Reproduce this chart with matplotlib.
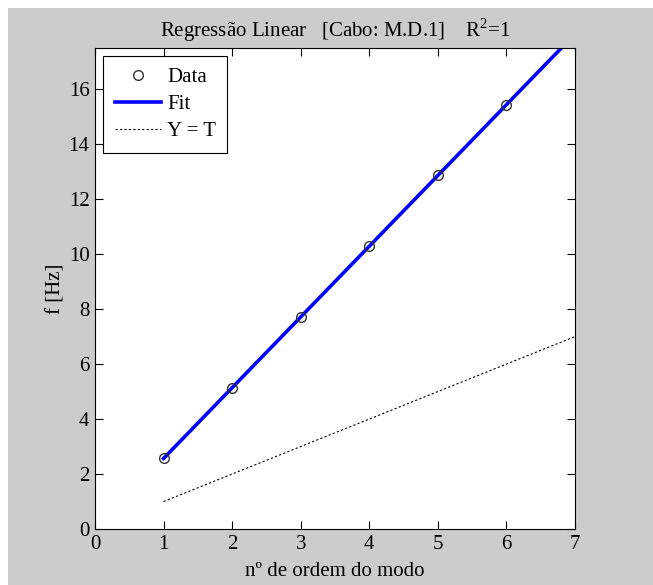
import numpy as np
import matplotlib

matplotlib.use("Agg")
import matplotlib.pyplot as plt
from matplotlib.patches import Rectangle

# values
MODE = [1, 2, 3, 4, 5, 6]
FREQ = [2.57, 5.14, 7.70, 10.30, 12.87, 15.43]
T_LINE = [1, 7]

plt.rcParams.update(
    {
        "font.family": ["Liberation Serif", "DejaVu Serif"],
        "mathtext.fontset": "custom",
        "mathtext.rm": "Liberation Serif",
        "font.size": 15,
    }
)


def plot() -> None:
    fig = plt.figure(figsize=(6.53, 5.85), dpi=100, facecolor="white")
    # grey MATLAB-style frame, white strip at left and top
    fig.patches.append(
        Rectangle((8 / 653, 0), 1, 1 - 8 / 585, transform=fig.transFigure,
                  facecolor="#cccccc", edgecolor="none", zorder=-10)
    )
    ax = fig.add_axes([95 / 653, 1 - 529 / 585, 480 / 653, 481 / 585])

    slope, intercept = np.polyfit(MODE, FREQ, 1)
    xs = np.array(T_LINE, dtype=float)

    ax.plot(MODE, FREQ, "o", mfc="none", mec="#333333", ms=7, mew=1.0,
            label="Data", zorder=3)
    ax.plot(xs, slope * xs + intercept, color="#0000ff", lw=2.6, label="Fit", zorder=2)
    ax.plot(T_LINE, T_LINE, color="black", lw=0.8, ls=(0, (2, 2)), label="Y = T", zorder=2)

    ax.set_xlim(0, 7)
    ax.set_ylim(0, 17.5)
    ax.set_xticks(range(0, 8))
    ax.set_yticks(range(0, 17, 2))
    ax.tick_params(direction="in", top=True, right=True, length=6, width=0.8,
                   labelsize=15, pad=4)
    for spine in ax.spines.values():
        spine.set_linewidth(0.8)

    ax.set_xlabel("nº de ordem do modo", fontsize=15, labelpad=6)
    ax.set_ylabel("f [Hz]", fontsize=15, labelpad=2)
    ax.set_title("Regressão Linear   [Cabo: M.D.1]    R$^2$=1", fontsize=15, pad=8)

    leg = ax.legend(loc="upper left", fancybox=False, edgecolor="black",
                    framealpha=1, borderaxespad=0.4, handlelength=2.2,
                    handletextpad=0.3, labelspacing=0.35, borderpad=0.55,
                    fontsize=15)
    leg.get_frame().set_linewidth(0.8)

    fig.savefig("out.png", dpi=100, facecolor=fig.get_facecolor())
    plt.close(fig)


if __name__ == "__main__":
    plot()
